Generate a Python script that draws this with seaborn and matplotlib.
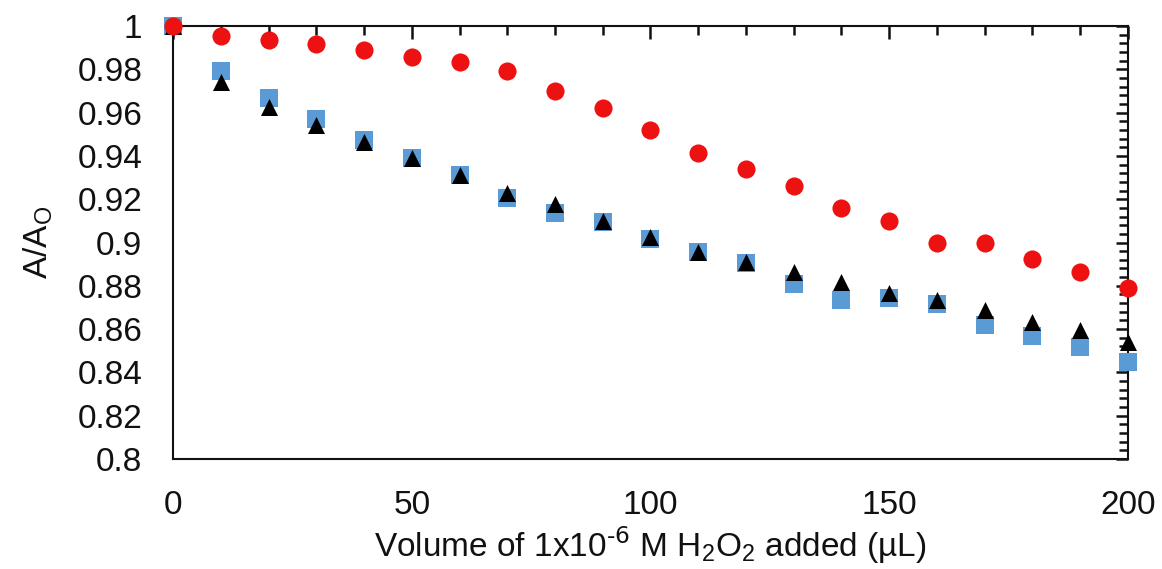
import numpy as np
import pandas as pd
import seaborn as sns
import matplotlib.pyplot as plt
from matplotlib.ticker import MultipleLocator

#%% data
volume = [0, 10, 20, 30, 40, 50, 60, 70, 80, 90, 100,
          110, 120, 130, 140, 150, 160, 170, 180, 190, 200]
red_circles = [1.000, 0.9954, 0.9935, 0.9917, 0.989, 0.9857, 0.9834, 0.979, 0.970, 0.962, 0.952,
               0.9413, 0.934, 0.926, 0.916, 0.910, 0.900, 0.900, 0.8924, 0.8864, 0.879]
blue_squares = [1.000, 0.979, 0.9667, 0.957, 0.9473, 0.939, 0.931, 0.9205, 0.9136, 0.9095, 0.9015,
                0.8956, 0.8905, 0.881, 0.8734, 0.8744, 0.8716, 0.862, 0.8568, 0.8517, 0.845]
black_triangles = [1.000, 0.974, 0.9626, 0.9543, 0.9466, 0.939, 0.931, 0.9228, 0.918, 0.910, 0.9025,
                   0.8956, 0.891, 0.8864, 0.8818, 0.8767, 0.8734, 0.869, 0.8633, 0.8596, 0.854]
y_ticklabels = ['0.8', '0.82', '0.84', '0.86', '0.88', '0.9',
                '0.92', '0.94', '0.96', '0.98', '1']

df = pd.DataFrame({'Volume': volume, 'squares': blue_squares,
                   'triangles': black_triangles, 'circles': red_circles})

#%% style
sns.set_style('white')
plt.rcParams['font.family'] = ['Liberation Sans', 'DejaVu Sans']
plt.rcParams['mathtext.default'] = 'regular'

fig = plt.figure(figsize=(11.62, 5.69), dpi=100)
ax = fig.add_axes([0.1489, 0.1933, 0.8218, 0.761])

# draw order: squares, then triangles, then circles on top
sns.scatterplot(data=df, x='Volume', y='squares', marker='s', s=160,
                color='#5b9bd5', linewidth=0, ax=ax, zorder=3, clip_on=False)
sns.scatterplot(data=df, x='Volume', y='triangles', marker='^', s=150,
                color='black', linewidth=0, ax=ax, zorder=4, clip_on=False)
sns.scatterplot(data=df, x='Volume', y='circles', marker='o', s=170,
                color='#ee1111', linewidth=0, ax=ax, zorder=5, clip_on=False)

ax.set_xlim(0, 200)
ax.set_ylim(0.8, 1.0)
ax.xaxis.set_major_locator(MultipleLocator(50))
ax.xaxis.set_minor_locator(MultipleLocator(10))
ax.yaxis.set_minor_locator(MultipleLocator(0.004))
ax.set_yticks(np.linspace(0.8, 1.0, len(y_ticklabels)))
ax.set_yticklabels(y_ticklabels)

ax.tick_params(which='both', direction='in', top=True, right=True,
               labelsize=24, width=1.8, colors='#111111')
ax.tick_params(axis='x', which='major', length=9, pad=22)
ax.tick_params(axis='x', which='minor', length=6.5)
ax.tick_params(axis='y', which='major', length=8.5, pad=22)
ax.tick_params(axis='y', which='minor', length=6.5)
for sp in ax.spines.values():
    sp.set_visible(True)
    sp.set_linewidth(1.5)
    sp.set_color('#111111')

ax.set_xlabel(r'Volume of 1x10$^{\text{-6}}$ M H$_2$O$_2$ added (µL)',
              fontsize=24, labelpad=3, color='#111111')
ax.set_ylabel('A/A$_O$', fontsize=24, labelpad=16, color='#111111')

fig.savefig('out.png', dpi=100)
